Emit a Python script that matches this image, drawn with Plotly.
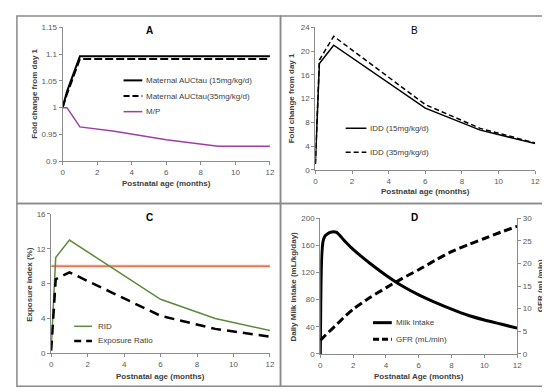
import plotly.graph_objects as go

W, H = 550, 391

# ---------------- data ----------------
months_a = [0, 0.25, 1, 3, 6, 9, 12]
auc_15 = [1.0, 1.03, 1.096, 1.096, 1.096, 1.096, 1.096]
auc_35 = [1.0, 1.025, 1.091, 1.091, 1.091, 1.091, 1.091]
mp_ratio = [1.0, 1.0, 0.964, 0.956, 0.940, 0.928, 0.928]

months_b = [0, 0.22, 1, 6, 9, 12]
idd_15 = [1.0, 17.9, 21.0, 10.4, 6.7, 4.45]
idd_35 = [1.0, 18.5, 22.5, 11.0, 7.0, 4.55]

months_c = [0, 0.25, 1, 6, 9, 12]
rid = [0.4, 11.0, 13.0, 6.2, 4.0, 2.6]
exposure_ratio = [0.3, 8.5, 9.3, 4.3, 2.8, 1.9]
threshold = [10, 10]
threshold_x = [0, 12]

months_milk = [0, 0.03, 0.06, 0.1, 0.15, 0.2, 0.3, 0.45, 0.6, 0.8, 1.0, 1.5, 2, 3, 4, 5, 6, 7, 8, 9, 10, 11, 12]
milk_intake = [0, 80, 125, 150, 163, 169, 174, 177, 179, 180, 179, 166, 154, 134, 116, 100, 87, 76, 66, 57, 50, 44, 38]
months_gfr = [0, 0.25, 0.5, 1, 1.5, 2, 3, 4, 5, 6, 7, 8, 9, 10, 11, 12]
gfr = [3.0, 3.9, 4.8, 6.5, 8.3, 9.9, 12.4, 14.6, 16.7, 18.6, 20.7, 22.6, 24.1, 25.5, 26.9, 28.2]

x_ticks = [0, 2, 4, 6, 8, 10, 12]
ya_ticks = [0.9, 0.95, 1.0, 1.05, 1.1, 1.15]
ya_text = ["0.9", "0.95", "1", "1.05", "1.1", "1.15"]
yb_ticks = [0, 4, 8, 12, 16, 20, 24]
yc_ticks = [0, 4, 8, 12, 16]
yd_ticks = [0, 40, 80, 120, 160, 200]
yd2_ticks = [0, 5, 10, 15, 20, 25, 30]

# ---------------- style ----------------
FONT = "Liberation Sans, Arial, sans-serif"
TICKC = "#595959"
AXC = "#8c8c8c"
TITLEC = "#404040"
PURPLE = "#A03CA8"
GREEN = "#5B8A3A"
ORANGE = "#D2542A"


def px(x):
    return x / W


def py(y):
    return 1 - y / H


fig = go.Figure()

# Panel A
fig.add_trace(go.Scatter(x=months_a, y=auc_15, mode="lines", line=dict(color="black", width=2),
                         xaxis="x", yaxis="y", showlegend=False))
fig.add_trace(go.Scatter(x=months_a, y=auc_35, mode="lines", line=dict(color="black", width=2, dash="8px,3px"),
                         xaxis="x", yaxis="y", showlegend=False))
fig.add_trace(go.Scatter(x=months_a, y=mp_ratio, mode="lines", line=dict(color=PURPLE, width=1.5),
                         xaxis="x", yaxis="y", showlegend=False))

# Panel B
fig.add_trace(go.Scatter(x=months_b, y=idd_15, mode="lines", line=dict(color="black", width=1.5),
                         xaxis="x2", yaxis="y2", showlegend=False))
fig.add_trace(go.Scatter(x=months_b, y=idd_35, mode="lines", line=dict(color="black", width=1.5, dash="5px,3px"),
                         xaxis="x2", yaxis="y2", showlegend=False))

# Panel C
fig.add_trace(go.Scatter(x=threshold_x, y=threshold, mode="lines", line=dict(color="#FBE2DC", width=4),
                         xaxis="x3", yaxis="y3", showlegend=False))
fig.add_trace(go.Scatter(x=threshold_x, y=threshold, mode="lines", line=dict(color=ORANGE, width=1.3),
                         xaxis="x3", yaxis="y3", showlegend=False))
fig.add_trace(go.Scatter(x=months_c, y=rid, mode="lines", line=dict(color=GREEN, width=1.5),
                         xaxis="x3", yaxis="y3", showlegend=False))
fig.add_trace(go.Scatter(x=months_c, y=exposure_ratio, mode="lines", line=dict(color="black", width=2.5, dash="10px,6px"),
                         xaxis="x3", yaxis="y3", showlegend=False))

# Panel D
fig.add_trace(go.Scatter(x=months_milk, y=milk_intake, mode="lines", line=dict(color="black", width=3, shape="spline", smoothing=0.6),
                         xaxis="x4", yaxis="y4", showlegend=False))
fig.add_trace(go.Scatter(x=months_gfr, y=gfr, mode="lines", line=dict(color="black", width=3, dash="8px,4px", shape="spline", smoothing=0.6),
                         xaxis="x4", yaxis="y5", showlegend=False))


def xax(domain, anchor):
    return dict(domain=domain, anchor=anchor, range=[0, 12], tickvals=x_ticks, showgrid=False, zeroline=False,
                showline=True, linecolor=AXC, linewidth=1, ticks="outside", ticklen=3, tickcolor=AXC,
                tickfont=dict(size=8, color=TICKC, family=FONT), fixedrange=True)


def yax(domain, anchor, rng, vals, text=None, side="left", overlaying=None):
    d = dict(domain=domain, anchor=anchor, range=rng, tickvals=vals, showgrid=False, zeroline=False,
             showline=True, linecolor=AXC, linewidth=1, ticks="outside", ticklen=3, tickcolor=AXC,
             tickfont=dict(size=8, color=TICKC, family=FONT), side=side, fixedrange=True)
    if text is not None:
        d["ticktext"] = text
    if overlaying:
        d["overlaying"] = overlaying
    return d


fig.update_layout(
    width=W, height=H, margin=dict(l=0, r=0, t=0, b=0),
    paper_bgcolor="white", plot_bgcolor="white",
    font=dict(family=FONT, color=TITLEC),
    xaxis=xax([px(53.3), px(263.3)], "y"),
    yaxis=yax([py(152.7), py(15.7)], "x", [0.9, 1.15], ya_ticks, ya_text),
    xaxis2=xax([px(309.3), px(532)], "y2"),
    yaxis2=yax([py(161.7), py(15.7)], "x2", [0, 24], yb_ticks),
    xaxis3=xax([px(41.7), px(263.3)], "y3"),
    yaxis3=yax([py(349.3), py(206.7)], "x3", [0, 16], yc_ticks),
    xaxis4=xax([px(314.3), px(513.7)], "y4"),
    yaxis4=yax([py(350), py(211)], "x4", [0, 200], yd_ticks),
    yaxis5=yax([py(350), py(211)], "x4", [0, 30], yd2_ticks, side="right", overlaying="y4"),
)

ann = []
shapes = []


def text(x, y, s, size=8, bold=False, angle=0, xanchor="center", color=TITLEC):
    ann.append(dict(x=px(x), y=py(y), xref="paper", yref="paper", text=("<b>%s</b>" % s) if bold else s,
                    showarrow=False, textangle=angle, xanchor=xanchor, yanchor="middle",
                    font=dict(size=size, family=FONT, color=color)))


def key(x0, x1, y, color, width, dash="solid"):
    shapes.append(dict(type="line", xref="paper", yref="paper", x0=px(x0), x1=px(x1), y0=py(y), y1=py(y),
                       line=dict(color=color, width=width, dash=dash)))


# panel letters
text(141, 19, "A", size=10, bold=True, color="black")
text(410, 19, "B", size=10, bold=False, color="black")
text(141.7, 210, "C", size=10, bold=True, color="black")
text(410, 210, "D", size=10, bold=True, color="black")

# axis titles
text(24, 84, "Fold change from day 1", bold=True, angle=-90)
text(158.3, 176, "Postnatal age (months)", bold=True)
text(286, 88, "Fold change from day 1", bold=True, angle=-90)
text(420.6, 183.7, "Postnatal age (months)", bold=True)
text(19.5, 279, "Exposure index (%)", bold=True, angle=-90)
text(152.5, 372.7, "Postnatal age (months)", bold=True)
text(286.7, 281, "Daily Milk intake (mL/kg/day)", bold=True, angle=-90)
text(537.5, 280, "GFR (mL/min)", bold=True, angle=-90)
text(414, 372.7, "Postnatal Age (months)", bold=True)

# legends (drawn as keys + text)
key(115, 134, 70, "black", 2)
text(136, 70, "Maternal AUCtau (15mg/kg/d)", xanchor="left")
key(115, 134, 86, "black", 2, "6px,3px")
text(136, 86, "Maternal AUCtau(35mg/kg/d)", xanchor="left")
key(115, 134, 102, PURPLE, 1.5)
text(136, 102, "M/P", xanchor="left")

key(340, 361, 119, "black", 1.5)
text(363, 119, "IDD (15mg/kg/d)", xanchor="left")
key(340, 361, 143.6, "black", 1.5, "5px,3px")
text(363, 143.6, "IDD (35mg/kg/d)", xanchor="left")

key(65, 83, 321.7, GREEN, 1.5)
text(87, 321.7, "RID", xanchor="left")
key(65, 83, 336.7, "black", 2.5, "7px,5px")
text(87, 336.7, "Exposure Ratio", xanchor="left")

key(367.7, 386.7, 318, "black", 3)
text(388.5, 318, "Milk Intake", xanchor="left")
key(367.7, 386.7, 335, "black", 3, "6px,3px")
text(388.5, 335, "GFR (mL/min)", xanchor="left")

# panel borders
BORDER = "#8a8a8a"
for (x0, y0, x1, y1) in [(7, 4, 274, 196), (274, 4, 543, 196), (7, 196, 274, 383), (274, 196, 543, 383)]:
    shapes.append(dict(type="rect", xref="paper", yref="paper", x0=px(x0), x1=px(x1), y0=py(y1), y1=py(y0),
                       line=dict(color=BORDER, width=1.5), fillcolor="rgba(0,0,0,0)", layer="below"))

fig.update_layout(annotations=ann, shapes=shapes)
fig.write_html("out.html")
